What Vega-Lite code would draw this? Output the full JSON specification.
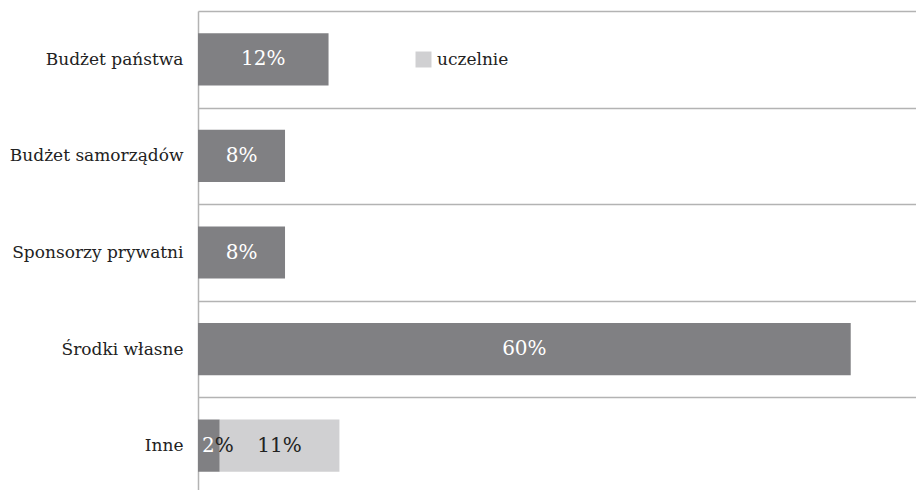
{
  "$schema": "https://vega.github.io/schema/vega-lite/v6.json",
  "autosize": "none",
  "width": 718,
  "height": 483,
  "padding": {"left": 198, "top": 11, "right": 0, "bottom": 0},
  "background": "white",
  "config": {"view": {"stroke": null}, "font": "DejaVu Serif"},
  "data": {"values": [
    {"kategoria": "Budżet państwa", "grupa": "szkoły", "wartosc": 0.12},
    {"kategoria": "Budżet samorządów", "grupa": "szkoły", "wartosc": 0.08},
    {"kategoria": "Sponsorzy prywatni", "grupa": "szkoły", "wartosc": 0.08},
    {"kategoria": "Środki własne", "grupa": "szkoły", "wartosc": 0.60},
    {"kategoria": "Inne", "grupa": "szkoły", "wartosc": 0.02},
    {"kategoria": "Inne", "grupa": "uczelnie", "wartosc": 0.11}
  ]},
  "encoding": {
    "y": {
      "field": "kategoria", "type": "nominal", "sort": null,
      "scale": {"paddingInner": 0, "paddingOuter": 0},
      "axis": {
        "title": null, "ticks": false, "tickBand": "extent", "grid": true,
        "gridColor": "#b3b3b3", "gridWidth": 1.3, "domainColor": "#b3b3b3", "domainWidth": 1.5,
        "labelFont": "DejaVu Serif", "labelFontSize": 17, "labelColor": "#222222",
        "labelPadding": 15
      }
    }
  },
  "layer": [
    {
      "mark": {"type": "bar", "height": {"band": 0.54}},
      "encoding": {
        "x": {
          "field": "wartosc", "type": "quantitative", "stack": "zero",
          "scale": {"domain": [0, 0.66], "nice": false, "zero": true},
          "axis": null
        },
        "color": {
          "field": "grupa", "type": "nominal",
          "scale": {"domain": ["szkoły", "uczelnie"], "range": ["#808083", "#d0d0d2"]},
          "legend": {
            "values": ["uczelnie"], "title": null, "orient": "none",
            "legendX": 217, "legendY": 40, "padding": 0,
            "symbolType": "square", "symbolSize": 256, "symbolStrokeWidth": 0,
            "labelFont": "DejaVu Serif", "labelFontSize": 17, "labelColor": "#222222",
            "labelOffset": 5
          }
        }
      }
    },
    {
      "mark": {"type": "text", "font": "DejaVu Serif", "fontSize": 20, "baseline": "middle", "align": "center"},
      "encoding": {
        "x": {"field": "wartosc", "type": "quantitative", "stack": "zero", "bandPosition": 0.5},
        "detail": {"field": "grupa", "type": "nominal"},
        "text": {"field": "wartosc", "type": "quantitative", "format": ".0%"},
        "color": {
          "condition": {"test": "datum.grupa === 'uczelnie'", "value": "#222222"},
          "value": "white"
        },
        "opacity": {
          "condition": {"test": "datum.kategoria === 'Inne' && datum.grupa === 'szkoły'", "value": 0},
          "value": 1
        }
      }
    },
    {
      "mark": {
        "type": "text", "font": "DejaVu Serif", "fontSize": 20, "baseline": "middle", "align": "center", "dx": 9,
        "color": {"gradient": "linear", "x1": 0, "y1": 0, "x2": 1, "y2": 0,
          "stops": [{"offset": 0, "color": "white"}, {"offset": 0.4, "color": "white"}, {"offset": 0.4, "color": "#222222"}, {"offset": 1, "color": "#222222"}]}
      },
      "encoding": {
        "x": {"field": "wartosc", "type": "quantitative", "stack": "zero", "bandPosition": 0.5},
        "detail": {"field": "grupa", "type": "nominal"},
        "text": {"field": "wartosc", "type": "quantitative", "format": ".0%"},
        "opacity": {
          "condition": {"test": "datum.kategoria === 'Inne' && datum.grupa === 'szkoły'", "value": 1},
          "value": 0
        }
      }
    }
  ]
}
